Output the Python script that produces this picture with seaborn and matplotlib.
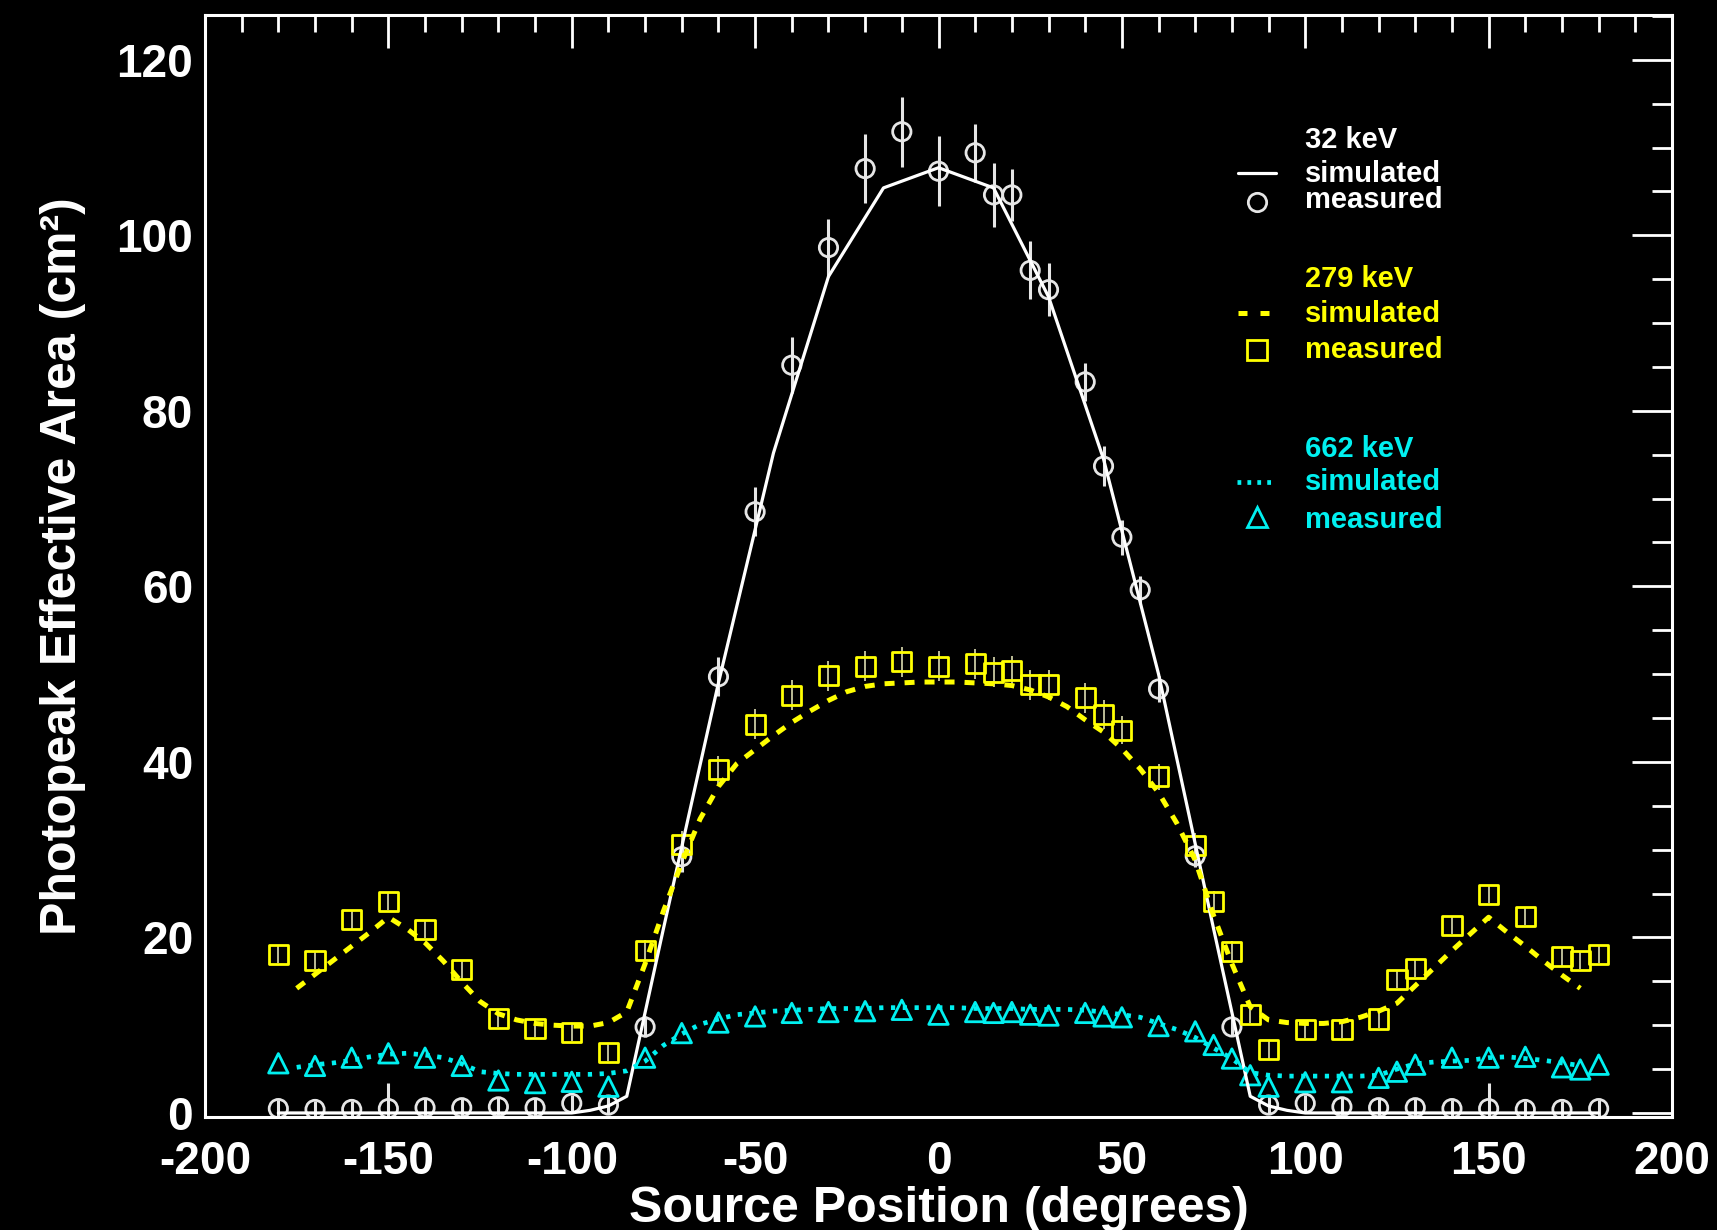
import matplotlib
matplotlib.use("Agg")
import matplotlib.pyplot as plt
import seaborn as sns
from matplotlib.ticker import MultipleLocator

# ---------------- data ----------------
# 32 keV measured (circles) with error bars
x32 = [-180, -170, -160, -150, -140, -130, -120, -110, -100, -90, -80, -70, -60, -50, -40, -30, -20, -10,
       0, 10, 15, 20, 25, 30, 40, 45, 50, 55, 60, 70, 80, 90, 100, 110, 120, 130, 140, 150, 160, 170, 180]
y32 = [0.5, 0.4, 0.4, 0.5, 0.6, 0.6, 0.7, 0.6, 1.1, 0.9, 9.8, 29.2, 49.7, 68.5, 85.2, 98.6, 107.6, 111.8,
       107.3, 109.4, 104.6, 104.6, 96.0, 93.8, 83.3, 73.7, 65.6, 59.6, 48.3, 29.3, 9.8, 0.9, 1.1, 0.7, 0.6,
       0.6, 0.5, 0.5, 0.4, 0.4, 0.5]
err32 = [1.0, 1.0, 1.0, 2.9, 1.0, 1.0, 1.0, 1.0, 1.0, 1.0, 1.2, 1.8, 2.2, 2.8, 3.2, 3.3, 3.9, 4.0,
         4.0, 3.3, 3.6, 3.0, 3.3, 3.0, 2.2, 2.3, 2.0, 1.6, 1.5, 1.3, 1.0, 1.0, 1.0, 1.0, 1.0, 1.0,
         1.0, 2.9, 1.0, 1.0, 1.0]

# 279 keV / 662 keV measured positions
x_meas = [-180, -170, -160, -150, -140, -130, -120, -110, -100, -90, -80, -70, -60, -50, -40, -30, -20, -10,
          0, 10, 15, 20, 25, 30, 40, 45, 50, 60, 70, 75, 80, 85, 90,
          100, 110, 120, 125, 130, 140, 150, 160, 170, 175, 180]
y279 = [18.1, 17.4, 22.0, 24.1, 20.9, 16.3, 10.8, 9.65, 9.15, 6.9, 18.5, 30.6, 39.1, 44.3, 47.6, 49.8, 50.9, 51.4,
        50.9, 51.2, 50.2, 50.4, 48.8, 48.8, 47.3, 45.4, 43.6, 38.3, 30.5, 24.1, 18.4, 11.2, 7.2,
        9.5, 9.5, 10.7, 15.2, 16.5, 21.4, 24.9, 22.4, 17.8, 17.4, 18.1]
err279 = [1.0, 1.0, 1.0, 1.0, 1.0, 1.0, 1.0, 1.0, 1.0, 1.0, 1.2, 1.5, 1.6, 1.7, 1.7, 1.7, 1.7, 1.7,
          1.7, 1.7, 1.7, 1.7, 1.7, 1.7, 1.7, 1.7, 1.6, 1.5, 1.4, 1.2, 1.2, 1.0, 1.0,
          1.0, 1.0, 1.0, 1.0, 1.0, 1.0, 1.0, 1.0, 1.0, 1.0, 1.0]
y662 = [5.66, 5.36, 6.3, 6.8, 6.3, 5.36, 3.7, 3.4, 3.55, 3.0, 6.3, 9.1, 10.3, 11.0, 11.4, 11.5, 11.6, 11.75,
        11.2, 11.5, 11.4, 11.5, 11.2, 11.1, 11.4, 11.0, 10.9, 9.9, 9.3, 7.75, 6.2, 4.3, 3.0,
        3.5, 3.5, 4.0, 4.7, 5.5, 6.3, 6.3, 6.4, 5.2, 4.95, 5.5]

# simulated curves
sim32_x = [-180, -100, -95, -90, -85, -75, -60, -45, -30, -15, 0, 15, 30, 45, 60, 75, 85, 90, 95, 100, 180]
sim32_y = [0.0, 0.0, 0.3, 0.8, 1.9, 21.0, 49.0, 75.2, 95.3, 105.4, 107.7, 105.4, 93.0, 74.5, 50.0, 21.0,
           1.9, 0.8, 0.3, 0.0, 0.0]

sim_x = [-175, -170, -165, -160, -155, -150, -145, -140, -135, -130, -125, -120, -115, -110, -105, -100,
         -95, -90, -85, -80, -75, -70, -65, -60, -55, -50, -45, -40, -35, -30, -25, -20, -15, -10, -5,
         0, 5, 10, 15, 20, 25, 30, 35, 40, 45, 50, 55, 60, 65, 70, 75, 80, 85, 90, 95, 100,
         105, 110, 115, 120, 125, 130, 135, 140, 145, 150, 155, 160, 165, 170, 175]
sim279_y = [14.2, 15.8, 17.4, 19.0, 20.6, 22.3, 21.0, 19.4, 17.3, 14.9, 12.7, 11.3, 10.6, 10.2, 10.0, 9.9,
            9.9, 10.3, 11.5, 17.0, 23.0, 28.5, 33.5, 37.2, 39.8, 41.4, 43.0, 44.5, 45.8, 47.0, 48.0, 48.6,
            48.9, 49.0, 49.1, 49.1, 49.1, 49.0, 48.9, 48.7, 48.2, 47.4, 46.3, 44.8, 43.4, 41.5, 39.2, 36.5,
            33.0, 28.8, 22.5, 17.0, 12.1, 10.6, 10.3, 10.2, 10.2, 10.4, 10.9, 11.6, 12.5, 14.5, 16.5, 18.5,
            20.4, 22.3, 20.6, 19.0, 17.3, 15.7, 14.2]
sim662_y = [5.2, 5.5, 5.7, 6.0, 6.4, 6.7, 6.8, 6.6, 6.3, 5.6, 4.7, 4.5, 4.4, 4.4, 4.4, 4.4,
            4.4, 4.5, 4.8, 5.9, 7.7, 9.0, 10.1, 10.7, 11.2, 11.4, 11.6, 11.7, 11.8, 11.9, 11.9, 11.9,
            12.0, 12.0, 12.0, 12.0, 12.0, 11.9, 11.9, 11.9, 11.8, 11.8, 11.8, 11.7, 11.5, 11.2, 10.9, 10.2,
            9.5, 8.6, 7.4, 6.2, 4.6, 4.3, 4.2, 4.2, 4.2, 4.2, 4.2, 4.3, 5.0, 5.6, 5.8, 5.9,
            6.0, 6.3, 6.4, 6.2, 6.0, 5.7, 5.4]

x_ticks = [-200, -150, -100, -50, 0, 50, 100, 150, 200]
y_ticks = [0, 20, 40, 60, 80, 100, 120]

legend_groups = ["32 keV", "279 keV", "662 keV"]

# ---------------- style ----------------
WHITE = "#ffffff"
CIRC = "#e6e6e6"
YEL = "#ffff00"
CYAN = "#00f0f0"

sns.set_theme(style="dark", rc={
    "figure.facecolor": "black", "axes.facecolor": "black", "savefig.facecolor": "black",
    "axes.edgecolor": "white", "xtick.color": "white", "ytick.color": "white",
    "text.color": "white", "axes.labelcolor": "white", "axes.grid": False,
})
plt.rcParams["font.family"] = ["Liberation Sans", "DejaVu Sans"]
plt.rcParams["font.weight"] = "bold"
plt.rcParams["axes.unicode_minus"] = False

W, H = 1717, 1230
L, R, T, B = 205, 1672, 15, 1117
fig = plt.figure(figsize=(W / 100, H / 100), dpi=100)
ax = fig.add_axes([L / W, 1 - B / H, (R - L) / W, (B - T) / H])


def fx(px):
    return (px - L) / (R - L)


def fy(py):
    return (B - py) / (B - T)


# ---------------- simulated lines ----------------
sns.lineplot(x=sim32_x, y=sim32_y, ax=ax, color=WHITE, lw=2.3, sort=False, errorbar=None, zorder=5)
sns.lineplot(x=sim_x, y=sim279_y, ax=ax, color=YEL, lw=3.6, sort=False, errorbar=None,
             linestyle=(0, (2.0, 2.0)), zorder=5)
sns.lineplot(x=sim_x, y=sim662_y, ax=ax, color=CYAN, lw=3.4, sort=False, errorbar=None,
             linestyle=(0, (0.9, 1.6)), zorder=5)

# ---------------- measured points ----------------
ax.errorbar(x32, y32, yerr=err32, fmt="none", ecolor=CIRC, elinewidth=2.2, capsize=0, zorder=3)
ax.errorbar(x_meas, y279, yerr=err279, fmt="none", ecolor="#dcdcb0", elinewidth=1.2, capsize=0, zorder=3)

sns.scatterplot(x=x32, y=y32, ax=ax, marker="o", s=13.2 ** 2, color=CIRC, edgecolor=CIRC,
                facecolors="none", linewidth=2.0, zorder=4, legend=False)
sns.scatterplot(x=x_meas, y=y279, ax=ax, marker="s", s=13.8 ** 2, color=YEL, edgecolor=YEL,
                facecolors="none", linewidth=2.0, zorder=4, legend=False)
sns.scatterplot(x=x_meas, y=y662, ax=ax, marker="^", s=14.0 ** 2, color=CYAN, edgecolor=CYAN,
                facecolors="none", linewidth=2.0, zorder=4, legend=False)
for coll in ax.collections[-3:]:
    coll.set_facecolor("none")

# ---------------- axes ----------------
ax.set_xlim(-200, 200)
ax.set_ylim(-0.46, 125.1)
ax.set_xticks(x_ticks)
ax.set_xticklabels([str(v) for v in x_ticks])
ax.set_yticks(y_ticks)
ax.set_yticklabels([str(v) for v in y_ticks])
ax.xaxis.set_minor_locator(MultipleLocator(10))
ax.yaxis.set_minor_locator(MultipleLocator(5))
ax.tick_params(axis="both", which="both", direction="in", top=True, right=True, colors="white")
ax.tick_params(axis="x", which="major", length=24, width=2, pad=16.5, labelsize=33)
ax.tick_params(axis="x", which="minor", length=12, width=2)
ax.tick_params(axis="y", which="major", length=29, width=2, pad=8.5, labelsize=33)
ax.tick_params(axis="y", which="minor", length=14.4, width=2)
for lab in ax.get_xticklabels() + ax.get_yticklabels():
    lab.set_fontweight("bold")
for sp in ax.spines.values():
    sp.set_color("white")
    sp.set_linewidth(2.2)
    sp.set_zorder(6)

ax.set_xlabel("Source Position (degrees)", fontsize=36, fontweight="bold", color="white")
ax.xaxis.set_label_coords(0.5, fy(1222))
ax.xaxis.label.set_va("baseline")
ax.set_ylabel("Photopeak Effective Area (cm\u00b2)", fontsize=36, fontweight="bold", color="white")
ax.yaxis.set_label_coords(fx(86), 0.5)

# ---------------- legend (drawn as annotations) ----------------
tkw = dict(transform=ax.transAxes, fontsize=21, fontweight="bold", ha="left", va="baseline")
TX = 1305
ax.text(fx(TX), fy(148), legend_groups[0], color=WHITE, **tkw)
ax.text(fx(TX), fy(182), "simulated", color=WHITE, **tkw)
ax.text(fx(TX), fy(208), "measured", color=WHITE, **tkw)
ax.text(fx(TX), fy(287), legend_groups[1], color=YEL, **tkw)
ax.text(fx(TX), fy(322), "simulated", color=YEL, **tkw)
ax.text(fx(TX), fy(358), "measured", color=YEL, **tkw)
ax.text(fx(TX), fy(457), legend_groups[2], color=CYAN, **tkw)
ax.text(fx(TX), fy(490), "simulated", color=CYAN, **tkw)
ax.text(fx(TX), fy(528), "measured", color=CYAN, **tkw)

lkw = dict(transform=ax.transAxes, clip_on=False)
ax.plot([fx(1238), fx(1276)], [fy(173), fy(173)], color=WHITE, lw=2.3, **lkw)
ax.plot([fx(1257)], [fy(202)], marker="o", ms=13.2, mfc="none", mec=CIRC, mew=2.0, ls="none", **lkw)
ax.plot([fx(1238), fx(1269)], [fy(313), fy(313)], color=YEL, lw=3.6, dashes=(1.8, 2.6), **lkw)
ax.plot([fx(1257)], [fy(350)], marker="s", ms=13.8, mfc="none", mec=YEL, mew=2.0, ls="none", **lkw)
ax.plot([fx(1237), fx(1272)], [fy(482), fy(482)], color=CYAN, lw=3.4, dashes=(0.8, 1.3), **lkw)
ax.plot([fx(1257)], [fy(517)], marker="^", ms=14.0, mfc="none", mec=CYAN, mew=2.0, ls="none", **lkw)

fig.savefig("out.png", dpi=100, facecolor="black")
